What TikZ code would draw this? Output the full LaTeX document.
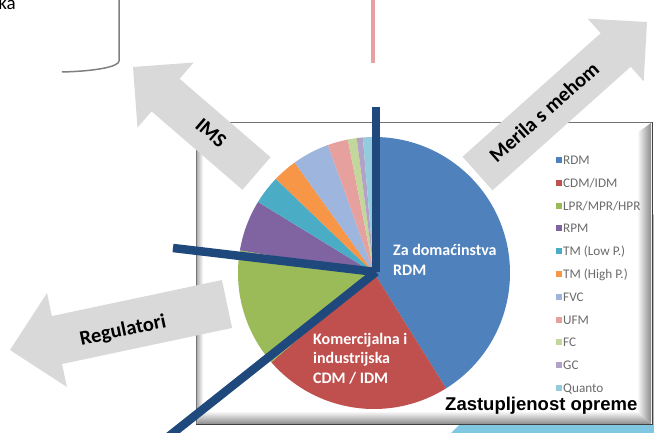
\documentclass[tikz,border=0pt]{standalone}
\usepackage{fontspec}
\newfontfamily\calfont{Carlito}
\newfontfamily\arfont{Liberation Sans}
\usetikzlibrary{calc}
\definecolor{navy}{RGB}{31,73,125}
\definecolor{arrowgray}{RGB}{217,217,217}
\definecolor{lightblue}{RGB}{128,200,226}
\definecolor{pinkline}{RGB}{232,160,160}
\definecolor{bracketgray}{RGB}{128,128,128}
\definecolor{cRDM}{RGB}{79,129,189}
\definecolor{cCDM}{RGB}{192,80,77}
\definecolor{cLPR}{RGB}{155,187,89}
\definecolor{cRPM}{RGB}{128,100,162}
\definecolor{cTML}{RGB}{75,172,198}
\definecolor{cTMH}{RGB}{247,150,70}
\definecolor{cFVC}{RGB}{158,181,221}
\definecolor{cUFM}{RGB}{230,160,158}
\definecolor{cFC}{RGB}{195,214,155}
\definecolor{cGC}{RGB}{179,162,199}
\definecolor{cQU}{RGB}{147,205,221}
\newcommand\pieslice[3]{\fill[#1] (pc) -- ($(pc)+(#2:136)$) arc[start angle=#2, end angle=#3, radius=136] -- cycle;}
\newcommand\grayarrow[5]{%
  \path ($(#2)!#5!(#1)$) coordinate (#2-h);
  \fill[arrowfill] ($(#1)!#3!90:(#2)$) -- ($(#2-h)!#3!90:(#2)$) -- ($(#2-h)!#4!90:(#2)$) -- (#2)
    -- ($(#2-h)!#4!-90:(#2)$) -- ($(#2-h)!#3!-90:(#2)$) -- ($(#1)!#3!-90:(#2)$) -- cycle;}
\begin{document}
\begin{tikzpicture}[x=1pt,y=-1pt,
  arrowfill/.style={fill=arrowgray},
  arrowtext/.style={font=\calfont\bfseries\fontsize{20.5}{24}\selectfont, text=black, inner sep=0},
  pielabel/.style={font=\calfont\bfseries\fontsize{16}{19.5}\selectfont, text=white, align=left, inner sep=0, anchor=north west},
  legtext/.style={font=\calfont\fontsize{13.2}{15}\selectfont, text=black!58, inner sep=0, anchor=base west},
  legbox/.style={fill=#1},
  navyline/.style={draw=navy, line width=8.5pt},
]
\useasboundingbox (0,0) rectangle (654,433);
% light blue shape behind the chart
\fill[lightblue] (451,433) -- (464,420) -- (654,214) -- (654,433) -- cycle;
% chart frame
\fill[white] (196,122) rectangle (652,424);
\shade[left color=white, right color=black!45] (637,133) -- (651,123) -- (651,424) -- (637,411) -- cycle;
\shade[top color=white, bottom color=black!45] (200,411) -- (637,411) -- (651,424) -- (197,424) -- cycle;
\shade[left color=black!30, right color=white] (197,123) -- (203,127) -- (203,411) -- (197,424) -- cycle;
\draw[black!55, line width=0.8] (196,424) -- (196,122) -- (652,122);
\draw[black!75, line width=1.5] (196,424.5) -- (652.5,424.5) -- (652.5,122);
% pie
\coordinate (pc) at (374,273);
\pieslice{cRDM}{-90}{58}
\pieslice{cCDM}{58}{139}
\pieslice{cLPR}{139}{189.6}
\pieslice{cRPM}{189.6}{211.5}
\pieslice{cTML}{211.5}{223.8}
\pieslice{cTMH}{223.8}{234.3}
\pieslice{cFVC}{234.3}{250.2}
\pieslice{cUFM}{250.2}{258.9}
\pieslice{cFC}{258.9}{262.7}
\pieslice{cGC}{262.7}{265.3}
\pieslice{cQU}{265.3}{270}
% pie labels
\node[pielabel] (rdmlabel) at (393,244.5) {Za domaćinstva\\RDM};
\node[pielabel] (cdmlabel) at (313,333) {Komercijalna i\\industrijska\\CDM / IDM};
% legend
\fill[legbox=cRDM] (556,157) rectangle +(6,6); \node[legtext] (l1) at (563,164.5) {RDM};
\fill[legbox=cCDM] (556,179.8) rectangle +(6,6); \node[legtext] (l2) at (563,187.3) {CDM/IDM};
\fill[legbox=cLPR] (556,202.6) rectangle +(6,6); \node[legtext] (l3) at (563,210.1) {LPR/MPR/HPR};
\fill[legbox=cRPM] (556,225.4) rectangle +(6,6); \node[legtext] (l4) at (563,232.9) {RPM};
\fill[legbox=cTML] (556,248.2) rectangle +(6,6); \node[legtext] (l5) at (563,255.7) {TM (Low P.)};
\fill[legbox=cTMH] (556,271) rectangle +(6,6); \node[legtext] (l6) at (563,278.5) {TM (High P.)};
\fill[legbox=cFVC] (556,293.8) rectangle +(6,6); \node[legtext] (l7) at (563,301.3) {FVC};
\fill[legbox=cUFM] (556,316.6) rectangle +(6,6); \node[legtext] (l8) at (563,324.1) {UFM};
\fill[legbox=cFC] (556,339.4) rectangle +(6,6); \node[legtext] (l9) at (563,346.9) {FC};
\fill[legbox=cGC] (556,362.2) rectangle +(6,6); \node[legtext] (l10) at (563,369.7) {GC};
\fill[legbox=cQU] (556,385) rectangle +(6,6); \node[legtext] (l11) at (563,392.5) {Quanto};
% title
\node[font=\arfont\bfseries\fontsize{18.5}{22}\selectfont, anchor=base west, inner sep=0] (title) at (445,410) {Zastupljenost opreme};
% gray arrows
\coordinate (imsTail) at (256.5,173.5); \coordinate (imsTip) at (133,67);
\grayarrow{imsTail}{imsTip}{21.5pt}{43pt}{43pt}
\coordinate (merTail) at (477.5,173.5); \coordinate (merTip) at (647,22);
\grayarrow{merTail}{merTip}{22.5pt}{42pt}{42pt}
\coordinate (regTail) at (227,304); \coordinate (regTip) at (10,350);
\grayarrow{regTail}{regTip}{24.5pt}{48pt}{48pt}
\node[arrowtext, rotate=-40.7] (imslabel) at (211,133) {IMS};
\node[arrowtext, rotate=41.7] (merlabel) at (544,112) {Merila s mehom};
\node[arrowtext, rotate=12] (reglabel) at (123,331) {Regulatori};
% navy lines
\coordinate (hub) at (376,272);
\coordinate (navyTop) at (376,107);
\coordinate (navyLeft) at (173,248);
\coordinate (navyLow) at (168,437);
\draw[navyline] (navyTop) -- (hub);
\draw[navyline] (navyLeft) -- (hub);
\draw[navyline] (navyLow) -- (hub);
% top-left fragments
\node[font=\calfont\fontsize{19}{22}\selectfont, anchor=base east, inner sep=0] (ka) at (16,10) {ka};
\coordinate (brTop) at (119,0); \coordinate (brEnd) at (62,72);
\draw[bracketgray, line width=1.5] (brTop) -- (119,61) .. controls (119,66) and (100,71) .. (brEnd);
\coordinate (pkTop) at (373,0); \coordinate (pkEnd) at (373,63);
\draw[pinkline, line width=4.5] (pkTop) -- (pkEnd);
\end{tikzpicture}
\end{document}
